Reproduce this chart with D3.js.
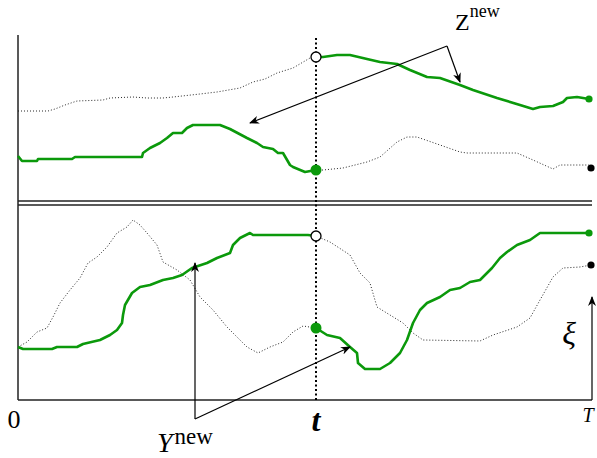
<!DOCTYPE html>
<html><head><meta charset="utf-8">
<script src="https://cdn.jsdelivr.net/npm/d3@7"></script>
<style>body{margin:0;background:#fff}svg{display:block}text{font-family:"Liberation Serif","DejaVu Serif",serif;fill:#000}</style>
</head><body><svg id="c" width="597" height="458"></svg>
<script>
// time units: 0..T (T = 571), t = 298
const T = 571, tNow = 298;
// top panel (Z processes)
const topDottedPre = [[0,89],[30,89],[37,91],[47,95],[59,99],[85,100],[92,102],[115,103],[129,102],[145,102],[155,103],[182,106],[199,108],[222,112],[235,118],[247,121],[259,127],[275,132],[292,142],[298,143]];
const topGreenPre = [[0,44],[4,39],[19,39],[20,41],[54,41],[57,43],[124,43],[125,47],[132,52],[142,57],[149,62],[155,67],[164,67],[169,72],[175,75],[202,75],[212,71],[229,62],[239,57],[245,53],[255,51],[260,47],[265,47],[272,35],[275,33],[287,28],[298,30]];
const topGreenPost = [[298,143],[305,143],[319,145],[332,145],[349,141],[362,138],[379,136],[392,130],[409,123],[422,122],[442,115],[455,110],[479,102],[502,95],[515,91],[522,93],[535,94],[545,98],[549,102],[559,103],[571,101]];
const topDottedPost = [[298,30],[305,30],[325,32],[349,38],[362,43],[379,58],[389,63],[399,63],[422,55],[442,48],[449,47],[499,47],[515,40],[535,31],[542,35],[571,35]];
const topBlackEnd = [573,32];
// bottom panel (Y processes)
const botDottedPre = [[0,53],[9,58],[19,68],[29,72],[35,83],[42,97],[52,110],[62,122],[70,137],[79,143],[89,153],[99,167],[109,173],[115,180],[122,175],[129,167],[139,155],[145,138],[159,130],[172,120],[182,103],[195,90],[209,73],[219,63],[229,53],[240,47],[252,53],[265,58],[275,68],[285,74],[298,72]];
const botGreenPre = [[0,53],[5,51],[34,51],[39,53],[59,53],[65,56],[82,60],[92,65],[99,70],[104,77],[105,85],[107,95],[114,107],[122,113],[132,115],[145,120],[155,122],[164,125],[174,132],[189,137],[199,142],[212,147],[215,155],[222,162],[232,167],[235,165],[290,165],[298,164]];
const botDottedPost = [[298,164],[312,158],[332,145],[342,127],[352,117],[359,93],[372,85],[385,77],[395,67],[405,60],[462,59],[475,65],[499,73],[512,82],[522,100],[535,123],[545,132],[562,133],[573,135]];
const botGreenPost = [[298,72],[309,65],[322,62],[332,53],[339,47],[340,37],[347,31],[362,31],[372,37],[382,47],[389,60],[395,77],[402,90],[409,97],[422,103],[432,110],[442,112],[452,118],[462,120],[474,132],[482,142],[489,148],[499,155],[512,160],[522,167],[571,167]];
const botBlackEnd = [573,135];
// annotation anchors
const zVertex = [429,154], zTips = [[232,77],[442,118]];
const yVertex = [177,-19], yTips = [[177,137],[332,53]];
const xiArrow = [[574,0],[574,103]];
const tickLabels = [{v:0,s:"0"},{v:tNow,s:"t"},{v:T,s:"T"}];

const svg = d3.select("#c");
const x = d3.scaleLinear().domain([0,T]).range([18,589]);
const yTop = d3.scaleLinear().domain([0,165]).range([200,35]);
const yBot = d3.scaleLinear().domain([0,195]).range([400,205]);
const green = "#0b990b";

const defs = svg.append("defs");
defs.append("marker").attr("id","ah").attr("viewBox","0 0 10 10").attr("refX",9).attr("refY",5)
  .attr("markerWidth",10).attr("markerHeight",10).attr("markerUnits","userSpaceOnUse").attr("orient","auto")
  .append("path").attr("d","M0,1 L10,5 L0,9 L3,5 Z").attr("fill","#000");

// frame
const xEnd = x(574);
svg.append("line").attr("x1",x(0)).attr("x2",x(0)).attr("y1",yTop(165)).attr("y2",yBot(0)).attr("stroke","#222").attr("stroke-width",1.5);
svg.append("line").attr("x1",x(0)).attr("x2",xEnd).attr("y1",yTop(-1)).attr("y2",yTop(-1)).attr("stroke","#222").attr("stroke-width",1.5);
svg.append("line").attr("x1",x(0)).attr("x2",xEnd).attr("y1",yBot(195)).attr("y2",yBot(195)).attr("stroke","#222").attr("stroke-width",1.5);
svg.append("line").attr("x1",x(0)).attr("x2",xEnd).attr("y1",yBot(0)).attr("y2",yBot(0)).attr("stroke","#222").attr("stroke-width",1.5);

// vertical t line
svg.append("line").attr("x1",x(tNow)).attr("x2",x(tNow)).attr("y1",yTop(162)).attr("y2",yBot(0))
  .attr("stroke","#000").attr("stroke-width",2).attr("stroke-dasharray","2,2.5");

function path(data, ys){ return d3.line().x(d=>x(d[0])).y(d=>ys(d[1]))(data); }
function dotted(data, ys){ svg.append("path").attr("d",path(data,ys)).attr("fill","none").attr("stroke","#111").attr("stroke-width",0.9).attr("stroke-dasharray","1,2"); }
function solid(data, ys){ svg.append("path").attr("d",path(data,ys)).attr("fill","none").attr("stroke",green).attr("stroke-width",2.6).attr("stroke-linejoin","round"); }

dotted(topDottedPre,yTop); dotted(topDottedPost,yTop);
dotted(botDottedPre,yBot); dotted(botDottedPost,yBot);
solid(topGreenPre,yTop); solid(topGreenPost,yTop);
solid(botGreenPre,yBot); solid(botGreenPost,yBot);

// annotations arrows
function arrow(a,b,ysA,ysB){ svg.append("line").attr("x1",x(a[0])).attr("y1",ysA(a[1])).attr("x2",x(b[0])).attr("y2",ysB(b[1])).attr("stroke","#000").attr("stroke-width",1.2).attr("marker-end","url(#ah)"); }
zTips.forEach(tp=>arrow(zVertex,tp,yTop,yTop));
yTips.forEach(tp=>arrow(yVertex,tp,yBot,yBot));
arrow(xiArrow[0],xiArrow[1],yBot,yBot);

// markers
function circ(p,ys,r,fill,stroke){ svg.append("circle").attr("cx",x(p[0])).attr("cy",ys(p[1])).attr("r",r).attr("fill",fill).attr("stroke",stroke||"none").attr("stroke-width",1.3); }
circ(topGreenPost[0],yTop,5,"#fff","#000");
circ(botDottedPost[0],yBot,5,"#fff","#000");
circ(topGreenPre[topGreenPre.length-1],yTop,5.5,green);
circ(botGreenPost[0],yBot,5.5,green);
circ(topGreenPost[topGreenPost.length-1],yTop,3.6,green);
circ(botGreenPost[botGreenPost.length-1],yBot,3.6,green);
circ(topBlackEnd,yTop,3.6,"#000");
circ(botBlackEnd,yBot,3.6,"#000");

// tick labels
svg.append("text").attr("x",x(0)-4).attr("y",428).attr("text-anchor","middle").attr("font-size",26).text(tickLabels[0].s);
svg.append("text").attr("x",x(tickLabels[1].v)).attr("y",431).attr("text-anchor","middle").attr("font-size",32).attr("font-style","italic").attr("font-weight","bold").text(tickLabels[1].s);
svg.append("text").attr("x",x(tickLabels[2].v)-1).attr("y",422).attr("text-anchor","middle").attr("font-size",20).attr("font-style","italic").text(tickLabels[2].s);
svg.append("text").attr("x",569).attr("y",344).attr("text-anchor","middle").attr("font-size",32).attr("font-style","italic").text("ξ");

// series labels
const zl = svg.append("text").attr("x",455).attr("y",30);
zl.append("tspan").attr("font-size",24).text("Z");
zl.append("tspan").attr("font-size",18).attr("dy",-13).text("new");
const yl = svg.append("text").attr("x",157).attr("y",452).attr("font-style","italic");
yl.append("tspan").attr("font-size",28).text("Y");
yl.append("tspan").attr("font-size",23).attr("font-style","normal").attr("dy",-8).attr("dx",2).text("new");
</script></body></html>
